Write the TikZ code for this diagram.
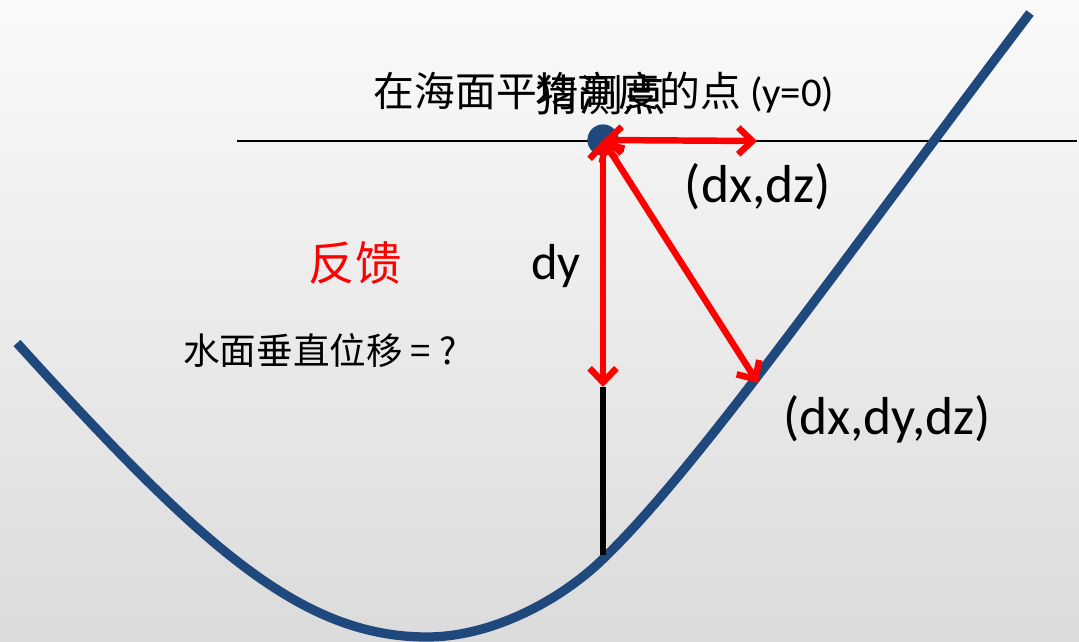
\documentclass[tikz,border=0pt]{standalone}
\usepackage{fontspec}
\setmainfont{Carlito}
\newfontfamily\cjk{Noto Sans CJK SC}
\usetikzlibrary{arrows.meta, positioning}
\definecolor{seablue}{HTML}{1F497D}
\definecolor{hintred}{HTML}{FF0000}

\begin{document}
\begin{tikzpicture}[x=0.025cm, y=-0.025cm, every node/.style={inner sep=0pt}]
  \tikzset{redarrow/.style={{Straight Barb[length=10pt,width=19pt]}-{Straight Barb[length=10pt,width=19pt]},
             line width=4.6pt, hintred},
           bigtext/.style={font=\fontsize{38}{40}\selectfont}}
  \useasboundingbox (0,0) rectangle (1079,642);
  \shade[top color=black!2, bottom color=black!14] (0,0) rectangle (1079,642);

  % mean sea level
  \coordinate (sea w) at (237,141);
  \coordinate (sea e) at (1077,141);
  \draw[line width=1.4pt] (sea w) -- (sea e);

  % water surface
  \draw[seablue, line width=6.6pt, line cap=butt]
    (17,343) .. controls (200,545) and (300,637) .. (427,637)
             .. controls (495,637) and (565,597) .. (605,557)
             .. controls (700,465) and (850,250) .. (1030,13);

  % guess point and displacements
  \coordinate (probe)  at (603,387);
  \coordinate (bottom) at (603,555);
  \coordinate (dxdz)   at (757,141);
  \coordinate (hit)    at (758,383);
  \draw[line width=4.2pt] (probe) -- (bottom);
  \node[circle, fill=seablue, minimum size=0.78cm] (guess) at (603,140) {};
  \draw[redarrow] (guess.center) -- (dxdz);
  \draw[redarrow] (guess.center) -- (probe);
  \draw[redarrow] (guess.center) -- (hit);

  % labels
  \node[bigtext] (dxdz lbl) at (758,187) {(dx,dz)};
  \node[bigtext] (dxdydz lbl) at (887,419) {(dx,dy,dz)};
  \node[font=\fontsize{36}{38}\selectfont] (dy lbl) at (556,266) {dy};
  \node[hintred, font=\cjk\fontsize{33}{35}\selectfont] (fankui) at (355,263) {反馈};
  \node[font=\cjk\fontsize{26}{28}\selectfont] (question) at (320,351) {水面垂直位移 = ?};
  \node[font=\fontsize{29}{31}\selectfont] (mean lbl) at (604,93) {{\cjk 在海面平均高度的点} (y=0)};
  \node[font=\cjk\fontsize{31}{33}\selectfont] (guess lbl) at (601,95) {猜测点};
\end{tikzpicture}
\end{document}
